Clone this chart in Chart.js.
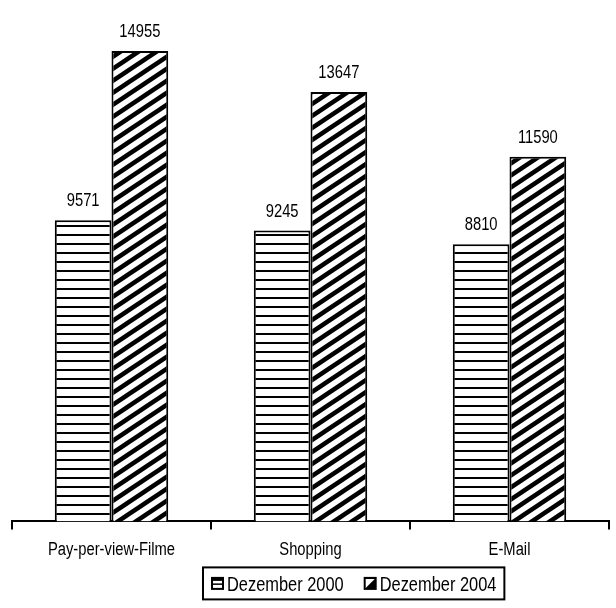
<!DOCTYPE html>
<html>
<head>
<meta charset="utf-8">
<script src="https://cdn.jsdelivr.net/npm/chart.js@4.4.1/dist/chart.umd.min.js"></script>
<style>
  html, body { margin: 0; padding: 0; background: #ffffff; }
  #wrap { width: 616px; height: 608px; }
</style>
</head>
<body>
<div id="wrap"><canvas id="chart" width="616" height="608"></canvas></div>
<script>
// Nutzungsarten und Werte je Stichtag
const categories = ['Pay-per-view-Filme', 'Shopping', 'E-Mail'];
const seriesNames = ['Dezember 2000', 'Dezember 2004'];
const values2000 = [9571, 9245, 8810];
const values2004 = [14955, 13647, 11590];

const FONT = 'Liberation Sans, Arial, Helvetica, sans-serif';
// condensed look for all chart text
const SQUEEZE = 0.82;

/**
 * Horizontal stripe fill (Dezember 2000)
 */
function makeStripePattern() {
    const c = document.createElement('canvas');
    c.width = 8;
    c.height = 9;
    const g = c.getContext('2d');
    g.fillStyle = '#ffffff';
    g.fillRect(0, 0, 8, 9);
    g.fillStyle = '#000000';
    g.fillRect(0, 0, 8, 2);
    return g.createPattern(c, 'repeat');
}

/**
 * Diagonal "/" hatch fill (Dezember 2004), a bit flatter than 45 degrees
 */
function makeHatchPattern() {
    const w = 18;
    const h = 12;
    const c = document.createElement('canvas');
    c.width = w;
    c.height = h;
    const g = c.getContext('2d');
    g.fillStyle = '#ffffff';
    g.fillRect(0, 0, w, h);
    g.strokeStyle = '#000000';
    g.lineWidth = 4.5;
    g.beginPath();
    [-w, 0, w].forEach(dx => {
        g.moveTo(dx - w * 0.2, h * 1.2);
        g.lineTo(dx + w * 1.2, -h * 0.2);
    });
    g.stroke();
    return g.createPattern(c, 'repeat');
}

// Text squeezed horizontally around its anchor point
function squeezedText(ctx, text, x, y, align) {
    ctx.save();
    ctx.translate(x, y);
    ctx.scale(SQUEEZE, 1);
    ctx.textAlign = align;
    ctx.fillText(text, 0, 0);
    ctx.restore();
}

// Legend icon: framed square, either striped or half filled
function drawIcon(ctx, kind, x, y, s) {
    ctx.fillStyle = '#000000';
    ctx.fillRect(x, y, s, s);
    ctx.fillStyle = '#ffffff';
    if (kind === 0) {
        ctx.fillRect(x + 2, y + 4, s - 4, s - 6);
        ctx.fillStyle = '#000000';
        ctx.fillRect(x + 2, y + s / 2, s - 4, 1.5);
    } else {
        ctx.beginPath();
        ctx.moveTo(x + 2, y + 2);
        ctx.lineTo(x + s - 2, y + 2);
        ctx.lineTo(x + 2, y + s - 2);
        ctx.closePath();
        ctx.fill();
    }
}

// Value labels above each bar
const valueLabels = {
    id: 'valueLabels',
    afterDatasetsDraw(chart) {
        const ctx = chart.ctx;
        ctx.save();
        ctx.fillStyle = '#000000';
        ctx.font = '18px ' + FONT;
        ctx.textBaseline = 'alphabetic';
        chart.data.datasets.forEach((ds, i) => {
            chart.getDatasetMeta(i).data.forEach((bar, j) => {
                squeezedText(ctx, String(ds.data[j]), bar.x, bar.y - 14, 'center');
            });
        });
        ctx.restore();
    }
};

// Category names under the axis (the scale reserves their space)
const categoryLabels = {
    id: 'categoryLabels',
    afterDraw(chart) {
        const ctx = chart.ctx;
        const xScale = chart.scales.x;
        ctx.save();
        ctx.fillStyle = '#000000';
        ctx.font = '18px ' + FONT;
        ctx.textBaseline = 'alphabetic';
        const y = chart.chartArea.bottom + 34;
        chart.data.labels.forEach((label, i) => {
            squeezedText(ctx, label, xScale.getPixelForTick(i), y, 'center');
        });
        ctx.restore();
    }
};

// Framed legend below the category labels
const boxedLegend = {
    id: 'boxedLegend',
    afterDraw(chart) {
        const ctx = chart.ctx;
        const area = chart.chartArea;
        const icon = 13;
        const gap = 3;
        const itemGap = 20;
        ctx.save();
        ctx.font = '20px ' + FONT;
        ctx.textBaseline = 'alphabetic';
        const widths = seriesNames.map(n => ctx.measureText(n).width * SQUEEZE);
        const inner = widths.reduce((s, w) => s + icon + gap + w, 0) + itemGap;
        const left = area.left + 191;
        const top = area.bottom + 46;
        const boxW = inner + 16;
        const boxH = 32;
        ctx.strokeStyle = '#000000';
        ctx.lineWidth = 2;
        ctx.strokeRect(left, top, boxW, boxH);
        let x = left + 8;
        const mid = top + boxH / 2;
        seriesNames.forEach((name, i) => {
            drawIcon(ctx, i, x, mid - icon / 2, icon);
            x += icon + gap;
            ctx.fillStyle = '#000000';
            squeezedText(ctx, name, x, mid + 7.5, 'left');
            x += widths[i] + itemGap;
        });
        ctx.restore();
    }
};

new Chart(document.getElementById('chart'), {
    type: 'bar',
    data: {
        labels: categories,
        datasets: [
            {
                label: seriesNames[0],
                data: values2000,
                backgroundColor: makeStripePattern(),
                borderColor: '#000000',
                borderWidth: 2,
                borderSkipped: 'bottom'
            },
            {
                label: seriesNames[1],
                data: values2004,
                backgroundColor: makeHatchPattern(),
                borderColor: '#000000',
                borderWidth: 2,
                borderSkipped: 'bottom'
            }
        ]
    },
    options: {
        responsive: false,
        animation: false,
        devicePixelRatio: 1,
        layout: {
            padding: { top: 18, left: 12, right: 7, bottom: 39 }
        },
        datasets: {
            bar: {
                categoryPercentage: 0.57,
                barPercentage: 1
            }
        },
        scales: {
            x: {
                grid: {
                    display: true,
                    drawOnChartArea: false,
                    drawTicks: true,
                    tickLength: 8,
                    color: '#000000',
                    lineWidth: 2
                },
                border: { display: true, color: '#000000', width: 2 },
                ticks: {
                    color: 'rgba(0,0,0,0)',
                    padding: 9,
                    font: { size: 18, family: FONT }
                }
            },
            y: {
                display: false,
                min: 0,
                max: 16000
            }
        },
        plugins: {
            tooltip: { enabled: false },
            legend: { display: false }
        }
    },
    plugins: [valueLabels, categoryLabels, boxedLegend]
});
</script>
</body>
</html>
